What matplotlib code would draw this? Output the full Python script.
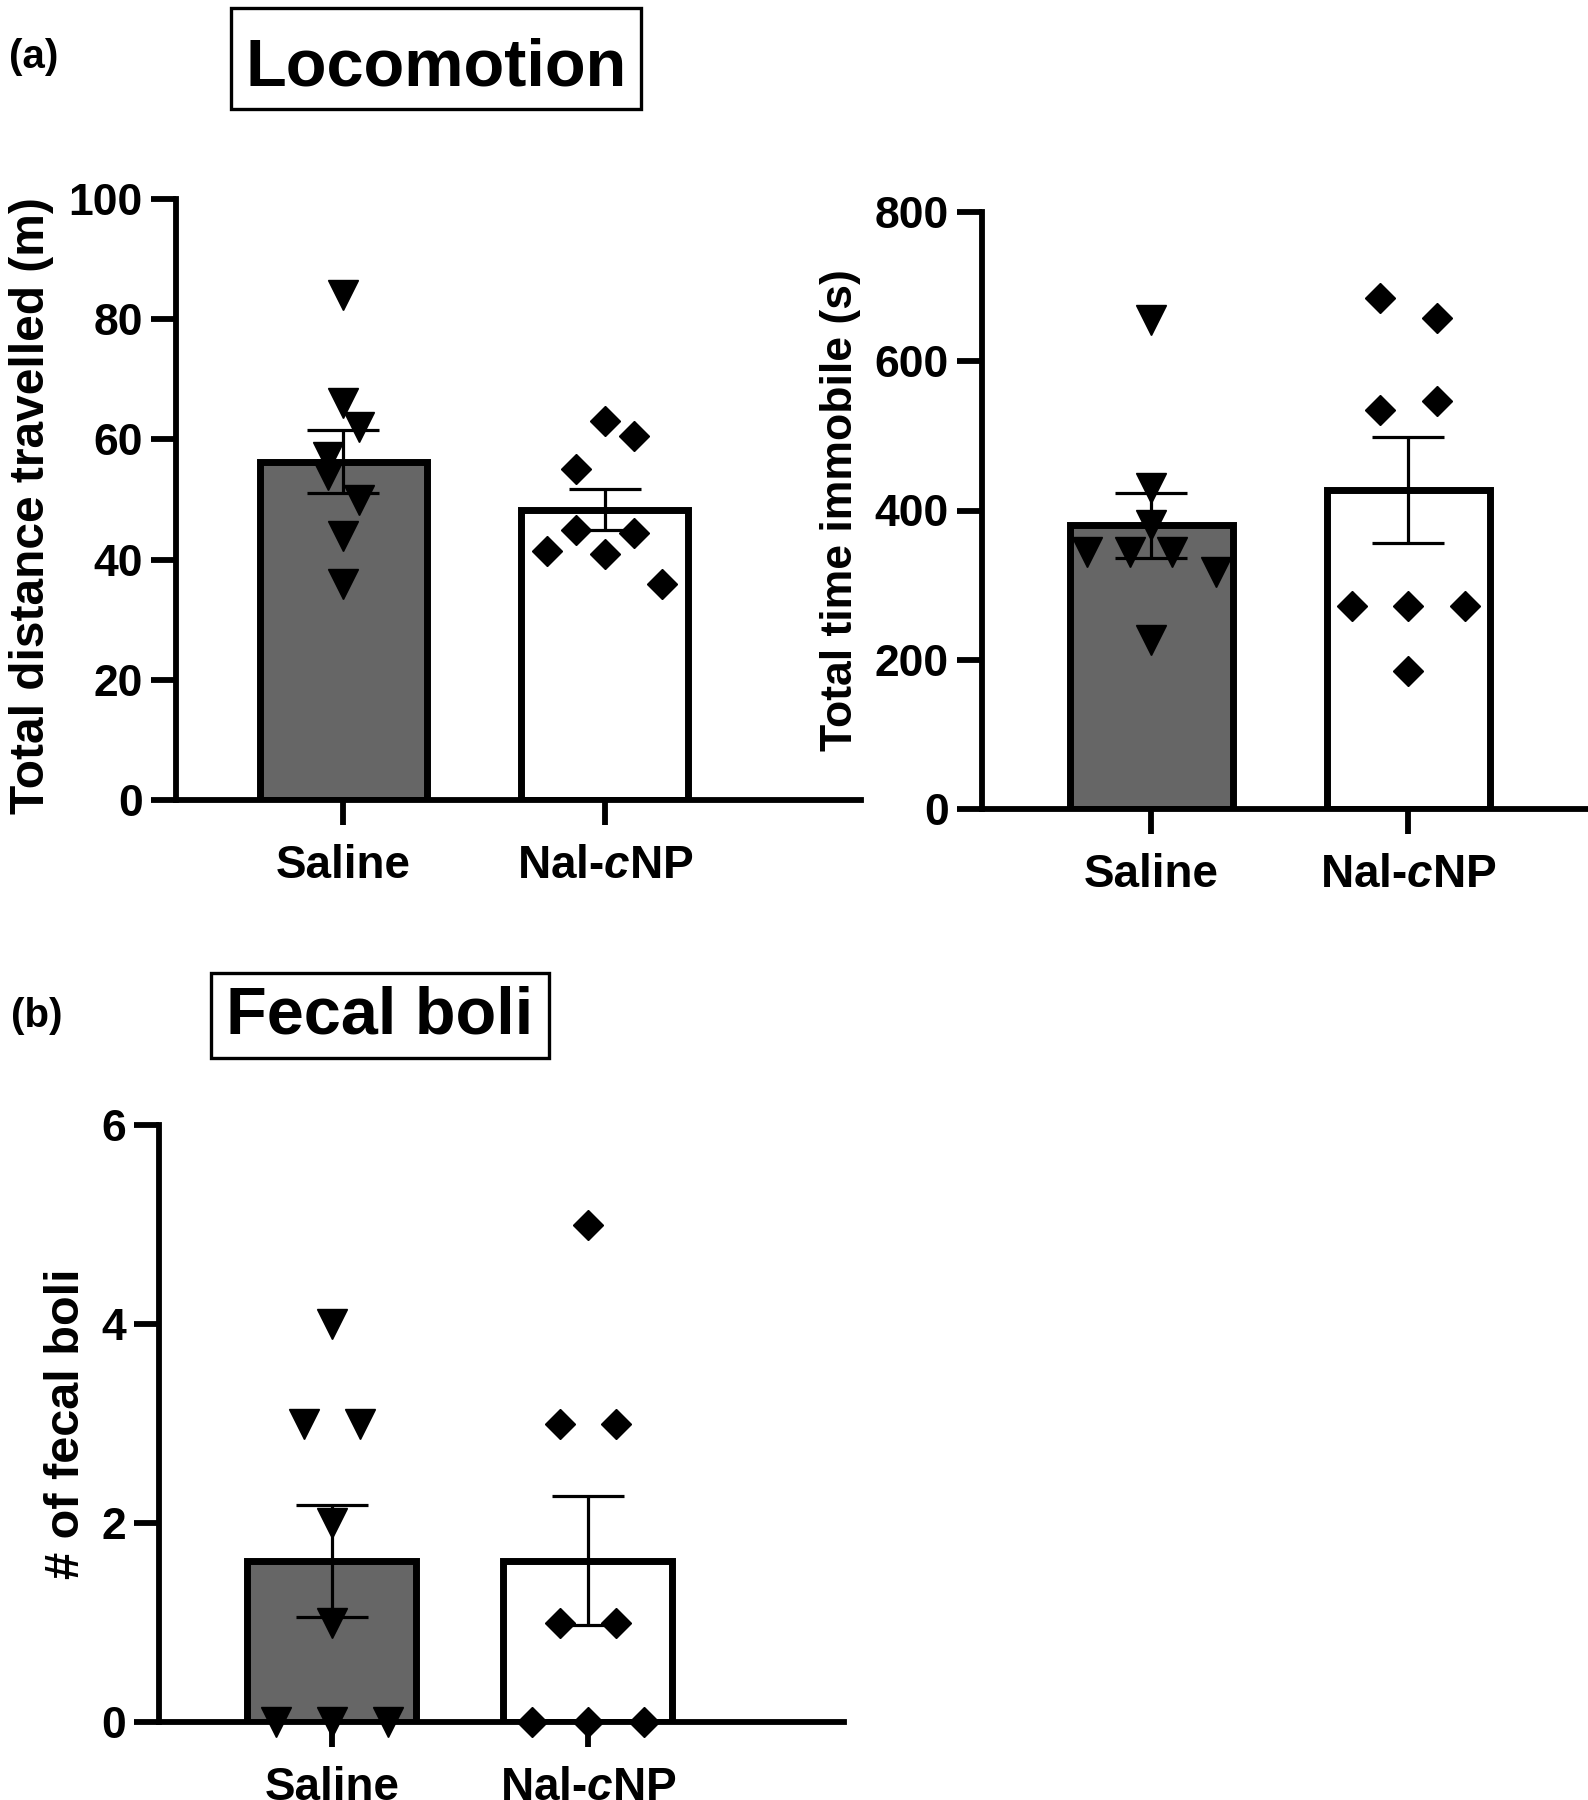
import matplotlib
matplotlib.use("Agg")
import matplotlib.pyplot as plt
from matplotlib.patches import Rectangle

plt.rcParams['font.family'] = ['Liberation Sans', 'DejaVu Sans']
plt.rcParams['font.weight'] = 'bold'
plt.rcParams['mathtext.fontset'] = 'custom'
plt.rcParams['mathtext.it'] = 'Liberation Sans:italic:bold'
plt.rcParams['mathtext.rm'] = 'Liberation Sans:bold'

# ---------------- data ----------------
groups = ["Saline", r"Nal-$\mathit{c}$NP"]

dist_saline = [84, 66, 62, 57, 54, 50, 44, 36]
dist_nal = [63, 60.5, 55, 45, 44.5, 41.5, 41, 36]
dist_mean = [56.3, 48.3]
dist_sem = [5.2, 3.4]

immob_saline = [655, 430, 380, 344, 344, 344, 317, 226]
immob_nal = [685, 658, 547, 535, 272, 272, 272, 185]
immob_mean = [380, 428]
immob_sem = [43, 71]

boli_saline = [4, 3, 3, 2, 1, 0, 0, 0]
boli_nal = [5, 3, 3, 1, 1, 0, 0, 0]
boli_mean = [1.62, 1.62]
boli_sem = [0.56, 0.65]

dist_ticks = [0, 20, 40, 60, 80, 100]
immob_ticks = [0, 200, 400, 600, 800]
boli_ticks = [0, 2, 4, 6]

# scatter layout (horizontal spread of points within each column)
spread_dist_saline = [0, 0, 0.06, -0.06, -0.06, 0.06, 0, 0]
spread_dist_nal = [0, 0.11, -0.11, -0.11, 0.11, -0.22, 0, 0.22]
spread_immob_saline = [0, 0, 0, -0.25, -0.085, 0.08, 0.25, 0]
spread_immob_nal = [-0.11, 0.11, 0.11, -0.11, -0.22, 0, 0.22, 0]
spread_boli_saline = [0, -0.11, 0.11, 0, 0, -0.22, 0, 0.22]
spread_boli_nal = [0, -0.11, 0.11, -0.11, 0.11, -0.22, 0, 0.22]

W, H = 1588, 1800
fig = plt.figure(figsize=(W / 100, H / 100), dpi=100)
fig.patch.set_facecolor('white')


def add_ax(left, right, top, bottom):
    return fig.add_axes([left / W, 1 - bottom / H, (right - left) / W, (bottom - top) / H])


SPINE = 4.2
TICK_FS = 32


def panel(ax, sal, nal, sp_sal, sp_nal, means, sems, ticks, ylabel, xlim, barw, ylabel_fs):
    xs = [0, 1]
    ax.bar(xs, means, width=barw, color=['#666666', 'white'], edgecolor='black',
           linewidth=5, zorder=2)
    ax.errorbar(xs, means, yerr=sems, fmt='none', ecolor='black', elinewidth=2.3,
                capsize=26, capthick=2.3, zorder=4)
    ax.plot([0 + d for d in sp_sal], sal, linestyle='none', marker='v', markersize=22,
            color='black', zorder=5, clip_on=False)
    ax.plot([1 + d for d in sp_nal], nal, linestyle='none', marker='D', markersize=15,
            color='black', zorder=5, clip_on=False)
    ax.set_xlim(*xlim)
    ax.set_ylim(ticks[0], ticks[-1])
    ax.set_yticks(ticks)
    ax.set_xticks(xs)
    ax.set_xticklabels(groups, fontsize=33, fontweight='bold')
    ax.tick_params(axis='y', labelsize=TICK_FS, length=18, width=SPINE, pad=6)
    ax.tick_params(axis='x', length=18, width=SPINE, pad=14)
    for lab in ax.get_yticklabels():
        lab.set_fontweight('bold')
    for s in ['top', 'right']:
        ax.spines[s].set_visible(False)
    for s in ['left', 'bottom']:
        ax.spines[s].set_linewidth(SPINE)
    ax.set_ylabel(ylabel, fontsize=ylabel_fs, fontweight='bold')
    ax.patch.set_alpha(0)


ax1 = add_ax(176, 861, 199, 800)
panel(ax1, dist_saline, dist_nal, spread_dist_saline, spread_dist_nal, dist_mean, dist_sem,
      dist_ticks, "Total distance travelled (m)", (-0.64, 1.98), 0.64, 34.5)
ax1.yaxis.set_label_coords(-0.178, 0.49)

ax2 = add_ax(982, 1588, 212, 809)
panel(ax2, immob_saline, immob_nal, spread_immob_saline, spread_immob_nal, immob_mean,
      immob_sem, immob_ticks, "Total time immobile (s)", (-0.66, 1.70), 0.635, 32)
ax2.yaxis.set_label_coords(-0.200, 0.5)

ax3 = add_ax(159, 844, 1125, 1722)
panel(ax3, boli_saline, boli_nal, spread_boli_saline, spread_boli_nal, boli_mean, boli_sem,
      boli_ticks, "# of fecal boli", (-0.675, 2.0), 0.66, 35)
ax3.yaxis.set_label_coords(-0.102, 0.5)

# panel letters and boxed titles
fig.text(34 / W, 1 - 57 / H, "(a)", fontsize=29, fontweight='bold', ha='center', va='center')
fig.text(37 / W, 1 - 1016 / H, "(b)", fontsize=29, fontweight='bold', ha='center', va='center')


def boxed_title(txt, x0, x1, y0, y1, baseline):
    fig.patches.append(Rectangle((x0 / W, 1 - y1 / H), (x1 - x0) / W, (y1 - y0) / H,
                                 transform=fig.transFigure, fill=False,
                                 edgecolor='black', linewidth=2.4))
    fig.text((x0 + x1) / 2 / W, 1 - baseline / H, txt, fontsize=48, fontweight='bold',
             ha='center', va='baseline')


boxed_title("Locomotion", 231, 641, 8, 109, 86)
boxed_title("Fecal boli", 211, 549, 973, 1058, 1033)

fig.savefig("out.png", dpi=100, facecolor='white')
